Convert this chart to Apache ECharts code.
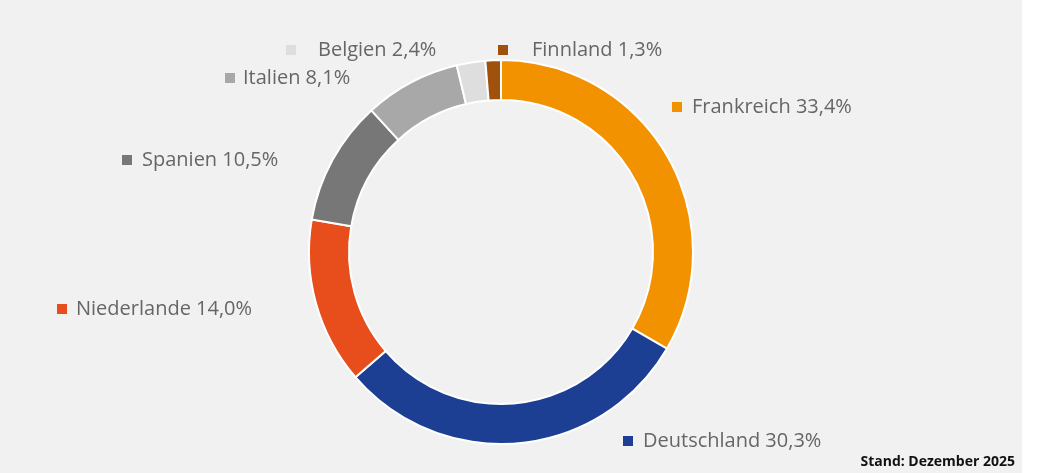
<!DOCTYPE html>
<html>
<head>
<meta charset="utf-8">
<script src="https://cdn.jsdelivr.net/npm/echarts@6/dist/echarts.min.js"></script>
<style>
  html, body { margin: 0; padding: 0; background: #ffffff; }
  #chart { width: 1022px; height: 473px; background: #f1f1f1; }
</style>
</head>
<body>
<div id="chart"></div>
<script>
const countries = ["Frankreich", "Deutschland", "Niederlande", "Spanien", "Italien", "Belgien", "Finnland"];
const shares = [33.4, 30.3, 14.0, 10.5, 8.1, 2.4, 1.3];
const note = "Stand: Dezember 2025";

const colors = ["#f39200", "#1c3f94", "#e84e1b", "#777777", "#a8a8a8", "#dedede", "#a0520c"];

// label anchors: left edge of the square marker, vertical middle, and gap to text
const labelSpots = [
  [672, 107, 10],
  [623, 441, 10],
  [57, 309, 9],
  [122, 160, 10],
  [225, 78, 8],
  [286, 50, 22],
  [498, 50, 24],
];

const rich = {};
colors.forEach((c, i) => {
  rich["m" + i] = { width: 10, height: 10, backgroundColor: c };
  rich["t" + i] = {
    fontFamily: "Open Sans",
    fontSize: 20,
    color: "#666666",
    padding: [0, 0, 0, labelSpots[i][2]],
  };
});

const fmt = (v) => v.toFixed(1).replace(".", ",") + "%";

const chart = echarts.init(document.getElementById("chart"));

chart.setOption({
  backgroundColor: "#f1f1f1",
  animation: false,
  title: {
    text: note,
    right: 7,
    bottom: 4,
    padding: 0,
    textStyle: {
      fontFamily: "Open Sans",
      fontSize: 14,
      fontWeight: "bold",
      color: "#111111",
    },
  },
  series: [
    {
      type: "pie",
      center: [501, 252],
      radius: [152, 192],
      startAngle: 90,
      clockwise: true,
      avoidLabelOverlap: false,
      itemStyle: {
        borderColor: "#ffffff",
        borderWidth: 2,
      },
      label: {
        show: true,
        position: "outside",
        formatter: (p) => `{m${p.dataIndex}|}{t${p.dataIndex}|${p.name} ${fmt(p.value)}}`,
        rich: rich,
      },
      labelLine: { show: false },
      labelLayout: (params) => {
        const s = labelSpots[params.dataIndex];
        return { x: s[0], y: s[1], align: "left", verticalAlign: "middle" };
      },
      emphasis: { disabled: true },
      data: countries.map((name, i) => ({
        name,
        value: shares[i],
        itemStyle: { color: colors[i] },
      })),
    },
  ],
});
</script>
</body>
</html>
